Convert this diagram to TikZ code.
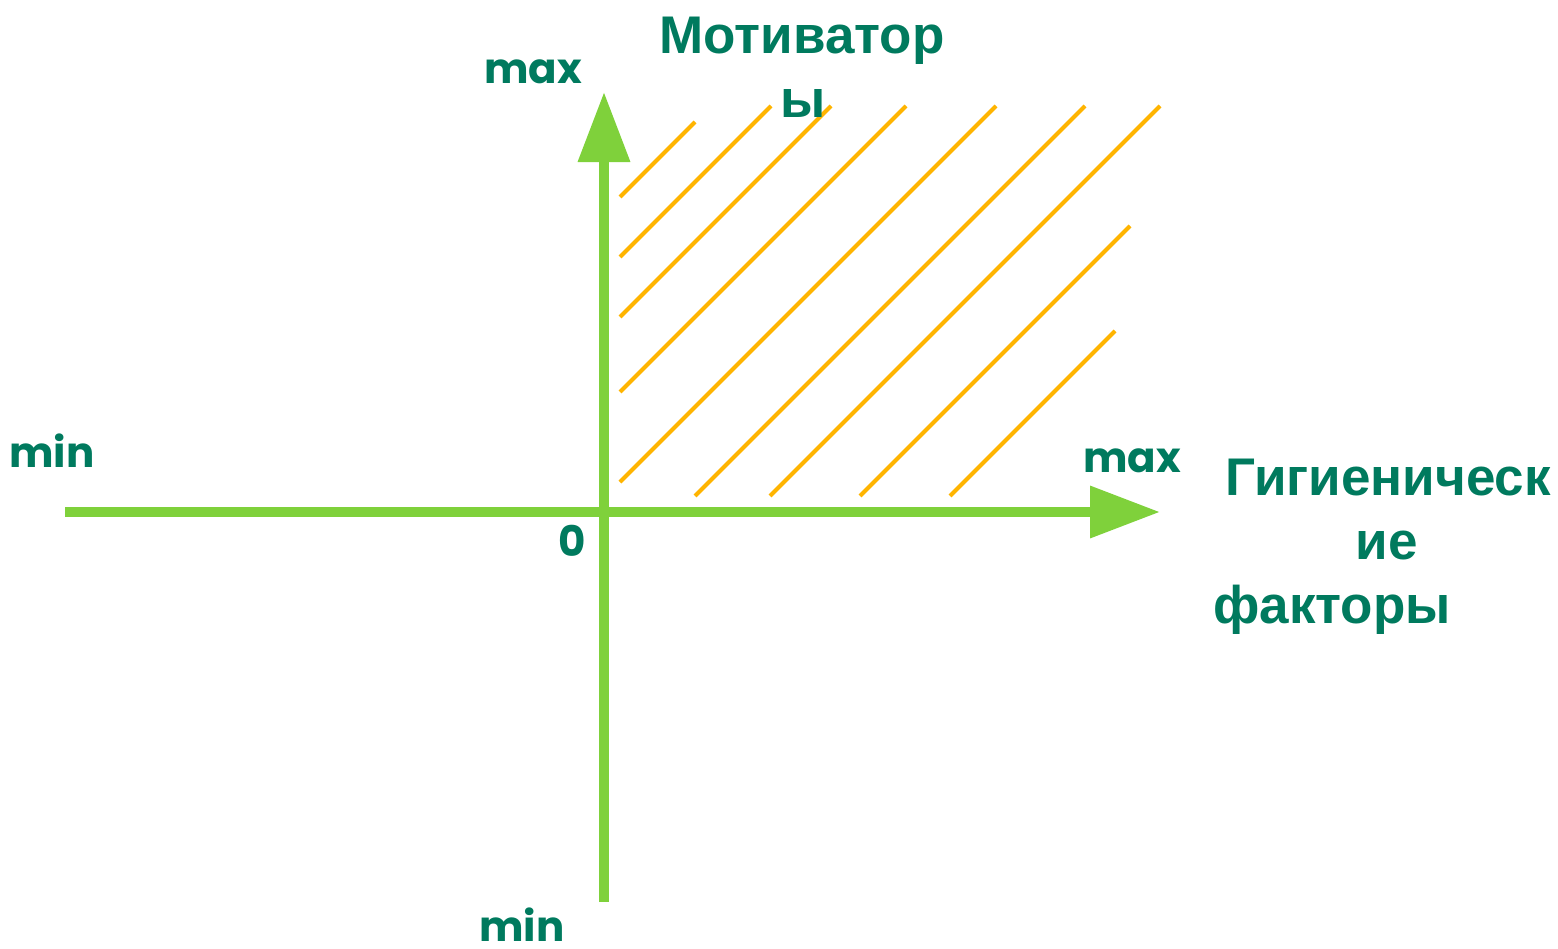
\documentclass[tikz,border=0pt]{standalone}
\usepackage{fontspec}
\setmainfont{Liberation Sans}
\newfontfamily\popfont{Poppins}
\usetikzlibrary{arrows.meta}
\definecolor{txtgreen}{HTML}{007A5E}
\definecolor{axisgreen}{HTML}{7FD13B}
\definecolor{hatchorange}{HTML}{FFB400}
\tikzset{
  axisline/.style={draw=axisgreen, line width=5pt},
  axisarrow/.style={-{Triangle[length=35pt,width=25pt]}, axisgreen},
  hatchline/.style={draw=hatchorange, line width=2pt},
  smalllabel/.style={anchor=base, inner sep=0pt, text=txtgreen, font=\popfont\bfseries\fontsize{21}{25}\selectfont},
  biglabel/.style={anchor=base, inner sep=0pt, text=txtgreen, font=\bfseries\fontsize{26.5}{32}\selectfont},
}
\begin{document}
\begin{tikzpicture}[x=0.5pt,y=-0.5pt]
\useasboundingbox (0,0) rectangle (1558,948);
% axes
\coordinate (xl) at (65,512);
\coordinate (xr) at (1160,512);
\coordinate (yb) at (604,902);
\coordinate (yt) at (604,92);
\draw[axisline, axisarrow] (xl) -- (xr);
\draw[axisline, axisarrow] (yb) -- (yt);
% hatching
\draw[hatchline] (620,197) -- (695,122);
\draw[hatchline] (620,257) -- (771,106);
\draw[hatchline] (620,317) -- (831,106);
\draw[hatchline] (620,392) -- (906,106);
\draw[hatchline] (620,482) -- (996,106);
\draw[hatchline] (695,496) -- (1085,106);
\draw[hatchline] (770,496) -- (1160,106);
\draw[hatchline] (860,496) -- (1130,226);
\draw[hatchline] (950,496) -- (1115,331);
% small labels
\node[smalllabel] (ymax) at (533,83) {max};
\node[smalllabel] (xmax) at (1132,472) {max};
\node[smalllabel] (xmin) at (52,467) {min};
\node[smalllabel] (ymin) at (522,941) {min};
\node[smalllabel] (zero) at (572,556) {0};
% big labels
\node[biglabel] (mot1) at (802,53) {Мотиватор};
\node[biglabel] (mot2) at (803,117) {ы};
\node[biglabel] (hyg1) at (1388,495) {Гигиеническ};
\node[biglabel] (hyg2) at (1387,559) {ие};
\node[biglabel] (hyg3) at (1332,623) {факторы};
\end{tikzpicture}
\end{document}
